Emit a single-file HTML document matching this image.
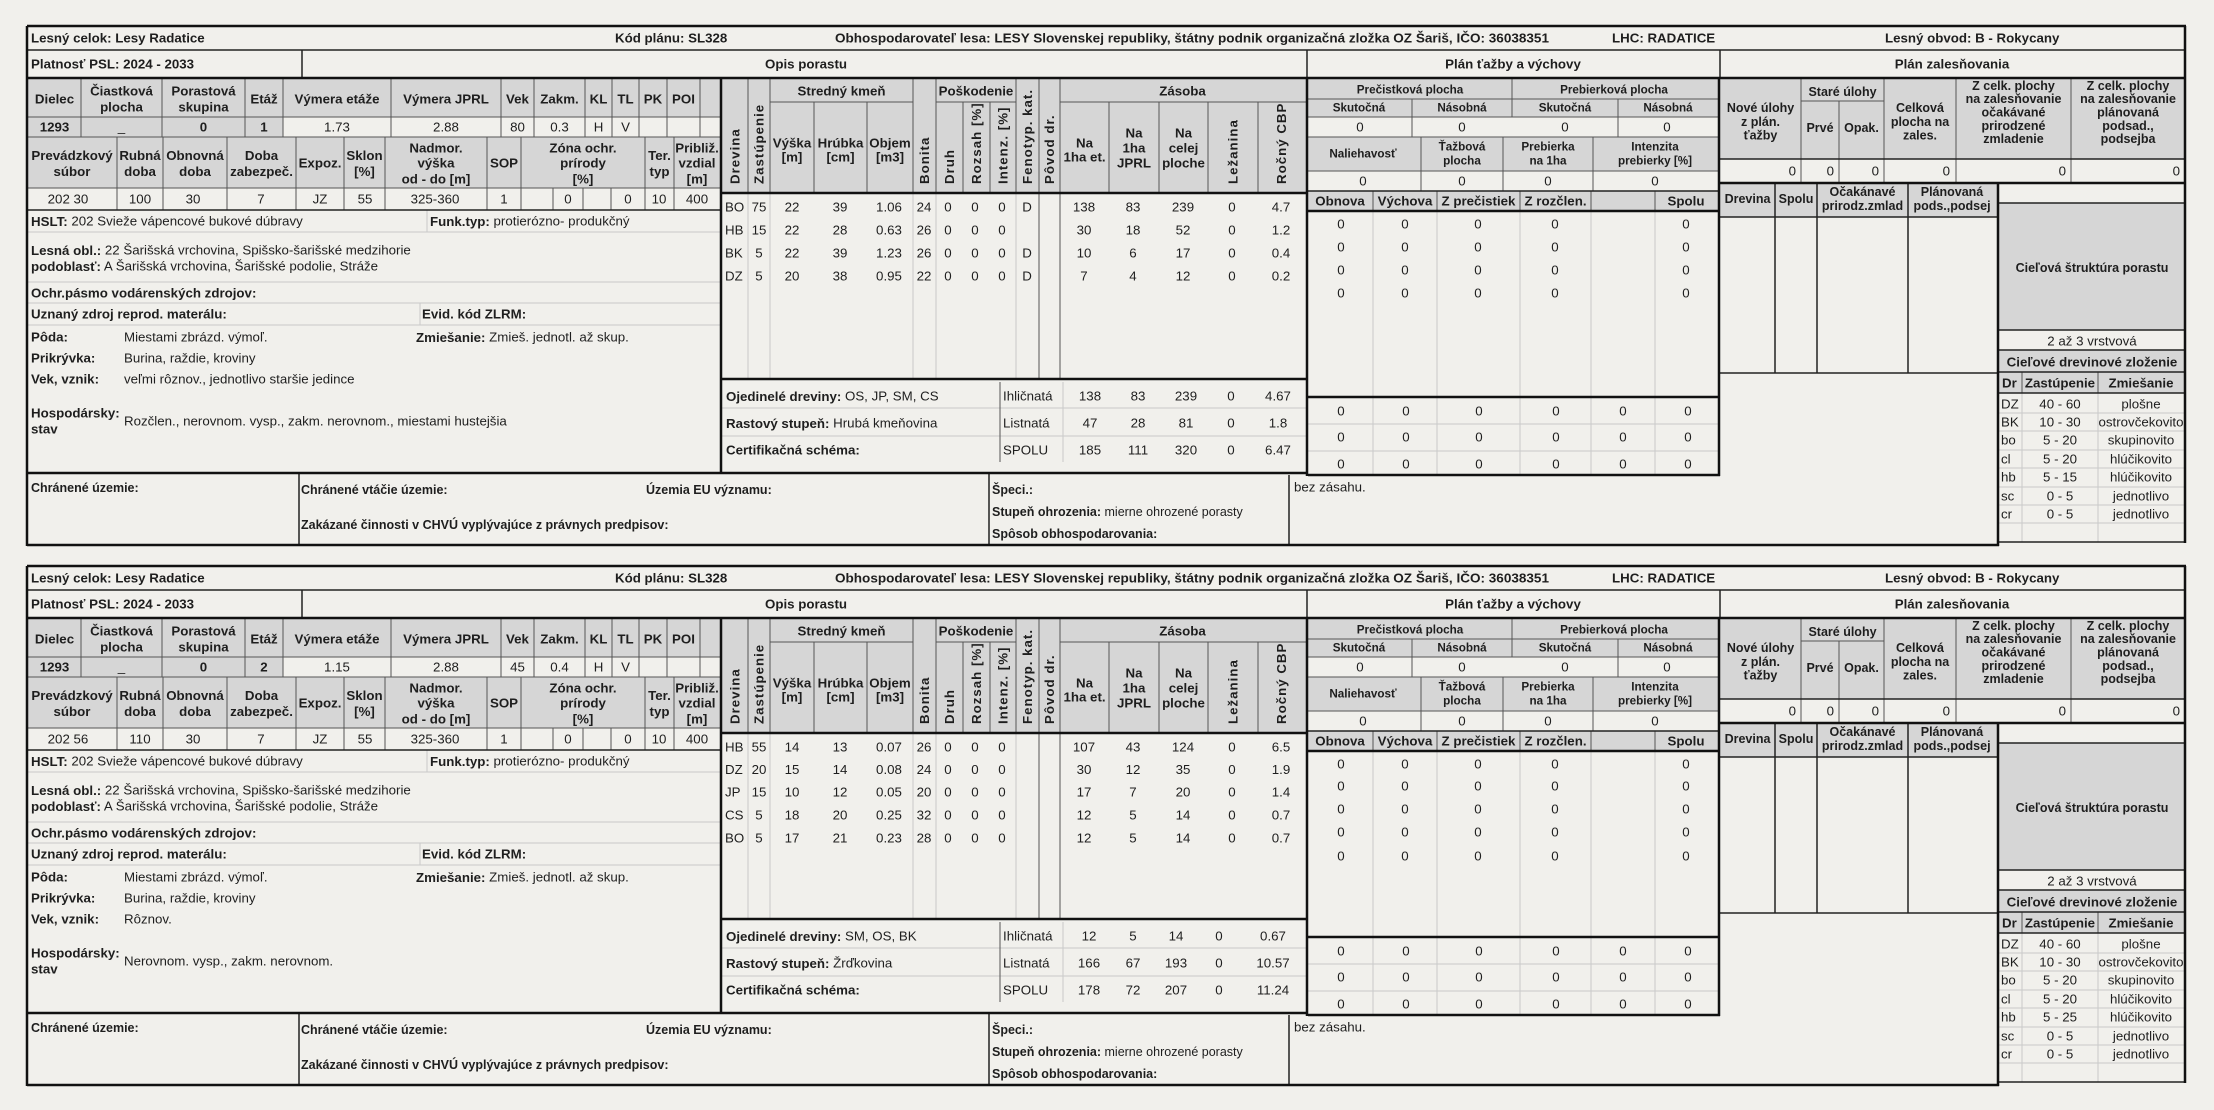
<!DOCTYPE html>
<html><head><meta charset="utf-8">
<style>
html,body{margin:0;padding:0;background:#f1f0ec;}
svg{display:block}
text{font-family:"Liberation Sans",Arial,sans-serif;font-size:13.3px;fill:#1e1e1e;dominant-baseline:central}
.b{font-weight:bold}
.c{text-anchor:middle}
.e{text-anchor:end}
.s{font-size:11.7px}
.m{font-size:12.5px}
.v{letter-spacing:1px;font-weight:bold}
.k{stroke:#111;stroke-width:2.5;fill:none}
.d{stroke:#222;stroke-width:1.5;fill:none}
.t{stroke:#555;stroke-width:1;fill:none}
.l{stroke:#c9c9c9;stroke-width:1;fill:none}
.g{fill:#d6d6d6}
</style></head><body>
<svg width="2214" height="1110" viewBox="0 0 2214 1110" xmlns="http://www.w3.org/2000/svg">

<!-- ================= BLOCK 1 ================= -->
<g>
<rect class="g" x="28" y="79" width="693" height="38"/>
<rect class="g" x="28" y="117" width="255" height="20"/>
<rect class="g" x="28" y="137" width="693" height="51"/>
<rect class="g" x="722" y="79" width="585" height="114"/>
<rect class="g" x="1308" y="79" width="411" height="38"/>
<rect class="g" x="1308" y="137" width="411" height="34"/>
<rect class="g" x="1308" y="191" width="411" height="20"/>
<rect class="g" x="1720" y="79" width="465" height="80"/>
<rect class="g" x="1720" y="183" width="278" height="34"/>
<rect class="g" x="1999" y="203" width="186" height="127"/>
<rect class="g" x="1999" y="350" width="186" height="43"/>

<path class="l" d="M427 210V232 M28 232H721 M28 282H721 M28 303H721 M28 325H721 M420 303V325 M748 193V379 M770 193V379 M913 193V379 M936 193V379 M1016 193V379 M1063 382V462 M722 408H1306 M722 436H1306 M1373 211V475 M1437 211V475 M1520 211V475 M1591 211V475 M1655 211V475 M1308 424H1719 M1308 451H1719 M2022 393V542 M2098 393V542 M1999 413H2185 M1999 431H2185 M1999 450H2185 M1999 468H2185 M1999 487H2185 M1999 505H2185 M1999 523H2185"/>
<path class="t" d="M28 117H721 M28 137H721 M28 188H721 M81 79V137 M162 79V137 M245 79V137 M283 79V137 M391 79V137 M501 79V137 M534 79V137 M585 79V137 M612 79V137 M639 79V137 M667 79V137 M700 79V137 M117 137V210 M163 137V210 M227 137V210 M296 137V210 M344 137V210 M385 137V210 M487 137V210 M521 137V210 M645 137V210 M674 137V210 M553 188V210 M583 188V210 M611 188V210 M748 79V193 M770 79V193 M913 79V193 M936 79V193 M1016 79V193 M1039 79V193 M1060 79V193 M814 102V193 M867 102V193 M963 102V193 M990 102V193 M1109 102V193 M1159 102V193 M1208 102V193 M1258 102V193 M770 102H913 M936 102H1016 M1060 102H1306 M1039 193V379 M1060 193V379 M1000 382V462 M1512 79V117 M1308 99H1719 M1308 117H1719 M1412 99V137 M1618 99V137 M1308 137H1719 M1308 171H1719 M1421 137V191 M1503 137V191 M1593 137V191 M1373 191V211 M1437 191V211 M1520 191V211 M1591 191V211 M1655 191V211 M1801 79V183 M1884 79V183 M1956 79V183 M2071 79V183 M1839 101V183 M1801 101H1884 M2022 372V393 M2098 372V393"/>
<path class="d" d="M27 50H2186 M302 50V78 M1307 50V78 M1720 50V78 M28 210H721 M299 473V545 M989 473V545 M1289 475V545 M1308 191H1719 M1720 159H2185 M1720 217H1998 M1720 373H1998 M1775 183V373 M1817 183V373 M1908 183V373 M1999 203H2185 M1999 330H2185 M1999 350H2185 M1999 372H2185 M1999 393H2185 M1999 542H2186"/>
<path class="k" d="M27 26H2186 M27 26V546 M2185 26V543 M27 78H2186 M721 78V474 M27 473H1308 M1307 78V476 M1308 475H1720 M1719 78V476 M722 193H1306 M722 379H1306 M1308 211H1719 M1308 397H1719 M1720 183H2186 M1998 183V546 M27 545H1999"/>

<!-- header rows -->
<text x="31" y="38" class="b">Lesný celok: Lesy Radatice</text>
<text x="615" y="38" class="b">Kód plánu: SL328</text>
<text x="835" y="38" class="b" textLength="714" lengthAdjust="spacingAndGlyphs">Obhospodarovateľ lesa: LESY Slovenskej republiky, štátny podnik organizačná zložka OZ Šariš, IČO: 36038351</text>
<text x="1612" y="38" class="b">LHC: RADATICE</text>
<text x="1885" y="38" class="b">Lesný obvod: B - Rokycany</text>
<text x="31" y="64" class="b">Platnosť PSL: 2024 - 2033</text>
<text x="806" y="64" class="b c">Opis porastu</text>
<text x="1513" y="64" class="b c">Plán ťažby a výchovy</text>
<text x="1952" y="64" class="b c">Plán zalesňovania</text>

<!-- left header 1 -->
<text x="54.5" y="99" class="b c">Dielec</text>
<text x="121.5" y="91" class="b c">Čiastková</text><text x="121.5" y="107" class="b c">plocha</text>
<text x="203.5" y="91" class="b c">Porastová</text><text x="203.5" y="107" class="b c">skupina</text>
<text x="264" y="99" class="b c">Etáž</text>
<text x="337" y="99" class="b c">Výmera etáže</text>
<text x="446" y="99" class="b c">Výmera JPRL</text>
<text x="517.5" y="99" class="b c">Vek</text>
<text x="559.5" y="99" class="b c">Zakm.</text>
<text x="598.5" y="99" class="b c">KL</text>
<text x="625.5" y="99" class="b c">TL</text>
<text x="653" y="99" class="b c">PK</text>
<text x="683.5" y="99" class="b c">POI</text>
<!-- 1293 row -->
<text x="54.5" y="127" class="b c">1293</text>
<text x="121.5" y="127" class="c">_</text>
<text x="203.5" y="127" class="b c">0</text>
<text x="264" y="127" class="b c">1</text>
<text x="337" y="127" class="c">1.73</text>
<text x="446" y="127" class="c">2.88</text>
<text x="517.5" y="127" class="c">80</text>
<text x="559.5" y="127" class="c">0.3</text>
<text x="598.5" y="127" class="c">H</text>
<text x="625.5" y="127" class="c">V</text>
<!-- left header 2 -->
<text x="72" y="155.5" class="b c">Prevádzkový</text><text x="72" y="171.5" class="b c">súbor</text>
<text x="140" y="155.5" class="b c">Rubná</text><text x="140" y="171.5" class="b c">doba</text>
<text x="195" y="155.5" class="b c">Obnovná</text><text x="195" y="171.5" class="b c">doba</text>
<text x="261.5" y="155.5" class="b c">Doba</text><text x="261.5" y="171.5" class="b c">zabezpeč.</text>
<text x="320" y="163" class="b c">Expoz.</text>
<text x="364.5" y="155.5" class="b c">Sklon</text><text x="364.5" y="171.5" class="b c">[%]</text>
<text x="436" y="148" class="b c">Nadmor.</text><text x="436" y="163" class="b c">výška</text><text x="436" y="179" class="b c">od - do [m]</text>
<text x="504" y="163" class="b c">SOP</text>
<text x="583" y="148" class="b c">Zóna ochr.</text><text x="583" y="163" class="b c">prírody</text><text x="583" y="179" class="b c">[%]</text>
<text x="659.5" y="155.5" class="b c">Ter.</text><text x="659.5" y="171.5" class="b c">typ</text>
<text x="697" y="148" class="b c">Približ.</text><text x="697" y="163" class="b c">vzdial</text><text x="697" y="179" class="b c">[m]</text>
<!-- data row -->
<text x="68" y="199" class="c">202 30</text>
<text x="140" y="199" class="c">100</text>
<text x="193" y="199" class="c">30</text>
<text x="261" y="199" class="c">7</text>
<text x="320" y="199" class="c">JZ</text>
<text x="365" y="199" class="c">55</text>
<text x="435" y="199" class="c">325-360</text>
<text x="504" y="199" class="c">1</text>
<text x="568" y="199" class="c">0</text>
<text x="628" y="199" class="c">0</text>
<text x="659" y="199" class="c">10</text>
<text x="697" y="199" class="c">400</text>
<!-- left info -->
<text x="31" y="221"><tspan class="b">HSLT:</tspan> 202 Svieže vápencové bukové dúbravy</text>
<text x="430" y="221"><tspan class="b">Funk.typ:</tspan> protierózno- produkčný</text>
<text x="31" y="250"><tspan class="b">Lesná obl.:</tspan> 22 Šarišská vrchovina, Spišsko-šarišské medzihorie</text>
<text x="31" y="266"><tspan class="b">podoblasť:</tspan> A Šarišská vrchovina, Šarišské podolie, Stráže</text>
<text x="31" y="293" class="b">Ochr.pásmo vodárenských zdrojov:</text>
<text x="31" y="314" class="b">Uznaný zdroj reprod. materálu:</text>
<text x="422" y="314" class="b">Evid. kód ZLRM:</text>
<text x="31" y="337" class="b">Pôda:</text><text x="124" y="337">Miestami zbrázd. výmoľ.</text>
<text x="416" y="337"><tspan class="b">Zmiešanie:</tspan> Zmieš. jednotl. až skup.</text>
<text x="31" y="358" class="b">Prikrývka:</text><text x="124" y="358">Burina, raždie, kroviny</text>
<text x="31" y="379" class="b">Vek, vznik:</text><text x="124" y="379">veľmi rôznov., jednotlivo staršie jedince</text>
<text x="31" y="413" class="b">Hospodársky:</text><text x="31" y="429" class="b">stav</text>
<text x="124" y="421">Rozčlen., nerovnom. vysp., zakm. nerovnom., miestami hustejšia</text>
<!-- bottom row -->
<text x="31" y="488" class="b m">Chránené územie:</text>
<text x="301" y="490" class="b m">Chránené vtáčie územie:</text>
<text x="646" y="490" class="b m">Územia EU významu:</text>
<text x="301" y="525" class="b m">Zakázané činnosti v CHVÚ vyplývajúce z právnych predpisov:</text>
<text x="992" y="490" class="b m">Špeci.:</text>
<text x="992" y="512" class="m"><tspan class="b">Stupeň ohrozenia:</tspan> mierne ohrozené porasty</text>
<text x="992" y="534" class="b m">Spôsob obhospodarovania:</text>
<text x="1294" y="487">bez zásahu.</text>

<!-- middle header -->
<text x="841.5" y="91" class="b c">Stredný kmeň</text>
<text x="976" y="91" class="b c">Poškodenie</text>
<text x="1182.5" y="91" class="b c">Zásoba</text>
<text transform="translate(735,184) rotate(-90)" class="v">Drevina</text>
<text transform="translate(759,184) rotate(-90)" class="v">Zastúpenie</text>
<text transform="translate(924.5,184) rotate(-90)" class="v">Bonita</text>
<text transform="translate(949.5,184) rotate(-90)" class="v">Druh</text>
<text transform="translate(976.5,184) rotate(-90)" class="v">Rozsah [%]</text>
<text transform="translate(1003,184) rotate(-90)" class="v">Intenz. [%]</text>
<text transform="translate(1027.5,184) rotate(-90)" class="v">Fenotyp. kat.</text>
<text transform="translate(1049.5,184) rotate(-90)" class="v">Pôvod dr.</text>
<text transform="translate(1233,184) rotate(-90)" class="v">Ležanina</text>
<text transform="translate(1281.5,184) rotate(-90)" class="v">Ročný CBP</text>
<text x="792" y="143" class="b c">Výška</text><text x="792" y="157" class="b c">[m]</text>
<text x="840.5" y="143" class="b c">Hrúbka</text><text x="840.5" y="157" class="b c">[cm]</text>
<text x="890" y="143" class="b c">Objem</text><text x="890" y="157" class="b c">[m3]</text>
<text x="1084.5" y="143" class="b c">Na</text><text x="1084.5" y="157" class="b c">1ha et.</text>
<text x="1134" y="133" class="b c">Na</text><text x="1134" y="148" class="b c">1ha</text><text x="1134" y="163" class="b c">JPRL</text>
<text x="1183.5" y="133" class="b c">Na</text><text x="1183.5" y="148" class="b c">celej</text><text x="1183.5" y="163" class="b c">ploche</text>
<!-- species rows -->
<g>
<text x="725" y="207">BO</text><text x="759" y="207" class="c">75</text><text x="792" y="207" class="c">22</text><text x="840" y="207" class="c">39</text><text x="889" y="207" class="c">1.06</text><text x="924" y="207" class="c">24</text><text x="948" y="207" class="c">0</text><text x="975" y="207" class="c">0</text><text x="1002" y="207" class="c">0</text><text x="1027" y="207" class="c">D</text><text x="1084" y="207" class="c">138</text><text x="1133" y="207" class="c">83</text><text x="1183" y="207" class="c">239</text><text x="1232" y="207" class="c">0</text><text x="1281" y="207" class="c">4.7</text>
<text x="725" y="230">HB</text><text x="759" y="230" class="c">15</text><text x="792" y="230" class="c">22</text><text x="840" y="230" class="c">28</text><text x="889" y="230" class="c">0.63</text><text x="924" y="230" class="c">26</text><text x="948" y="230" class="c">0</text><text x="975" y="230" class="c">0</text><text x="1002" y="230" class="c">0</text><text x="1084" y="230" class="c">30</text><text x="1133" y="230" class="c">18</text><text x="1183" y="230" class="c">52</text><text x="1232" y="230" class="c">0</text><text x="1281" y="230" class="c">1.2</text>
<text x="725" y="253">BK</text><text x="759" y="253" class="c">5</text><text x="792" y="253" class="c">22</text><text x="840" y="253" class="c">39</text><text x="889" y="253" class="c">1.23</text><text x="924" y="253" class="c">26</text><text x="948" y="253" class="c">0</text><text x="975" y="253" class="c">0</text><text x="1002" y="253" class="c">0</text><text x="1027" y="253" class="c">D</text><text x="1084" y="253" class="c">10</text><text x="1133" y="253" class="c">6</text><text x="1183" y="253" class="c">17</text><text x="1232" y="253" class="c">0</text><text x="1281" y="253" class="c">0.4</text>
<text x="725" y="276">DZ</text><text x="759" y="276" class="c">5</text><text x="792" y="276" class="c">20</text><text x="840" y="276" class="c">38</text><text x="889" y="276" class="c">0.95</text><text x="924" y="276" class="c">22</text><text x="948" y="276" class="c">0</text><text x="975" y="276" class="c">0</text><text x="1002" y="276" class="c">0</text><text x="1027" y="276" class="c">D</text><text x="1084" y="276" class="c">7</text><text x="1133" y="276" class="c">4</text><text x="1183" y="276" class="c">12</text><text x="1232" y="276" class="c">0</text><text x="1281" y="276" class="c">0.2</text>
</g>
<!-- summary -->
<text x="726" y="396"><tspan class="b">Ojedinelé dreviny:</tspan> OS, JP, SM, CS</text>
<text x="726" y="423"><tspan class="b">Rastový stupeň:</tspan> Hrubá kmeňovina</text>
<text x="726" y="450" class="b">Certifikačná schéma:</text>
<text x="1003" y="396">Ihličnatá</text><text x="1090" y="396" class="c">138</text><text x="1138" y="396" class="c">83</text><text x="1186" y="396" class="c">239</text><text x="1231" y="396" class="c">0</text><text x="1278" y="396" class="c">4.67</text>
<text x="1003" y="423">Listnatá</text><text x="1090" y="423" class="c">47</text><text x="1138" y="423" class="c">28</text><text x="1186" y="423" class="c">81</text><text x="1231" y="423" class="c">0</text><text x="1278" y="423" class="c">1.8</text>
<text x="1003" y="450">SPOLU</text><text x="1090" y="450" class="c">185</text><text x="1138" y="450" class="c">111</text><text x="1186" y="450" class="c">320</text><text x="1231" y="450" class="c">0</text><text x="1278" y="450" class="c">6.47</text>

<!-- Plan tazby -->
<text x="1410" y="90" class="b c s">Prečistková plocha</text>
<text x="1614" y="90" class="b c s">Prebierková plocha</text>
<text x="1359" y="108" class="b c s">Skutočná</text><text x="1462" y="108" class="b c s">Násobná</text><text x="1565" y="108" class="b c s">Skutočná</text><text x="1668" y="108" class="b c s">Násobná</text>
<text x="1360" y="127" class="c">0</text><text x="1462" y="127" class="c">0</text><text x="1565" y="127" class="c">0</text><text x="1667" y="127" class="c">0</text>
<text x="1363" y="154" class="b c s">Naliehavosť</text>
<text x="1462" y="147" class="b c s">Ťažbová</text><text x="1462" y="161" class="b c s">plocha</text>
<text x="1548" y="147" class="b c s">Prebierka</text><text x="1548" y="161" class="b c s">na 1ha</text>
<text x="1655" y="147" class="b c s">Intenzita</text><text x="1655" y="161" class="b c s">prebierky [%]</text>
<text x="1363" y="181" class="c">0</text><text x="1462" y="181" class="c">0</text><text x="1548" y="181" class="c">0</text><text x="1655" y="181" class="c">0</text>
<text x="1340" y="201" class="b c">Obnova</text><text x="1405" y="201" class="b c">Výchova</text><text x="1478.5" y="201" class="b c">Z prečistiek</text><text x="1555.5" y="201" class="b c">Z rozčlen.</text><text x="1686" y="201" class="b c">Spolu</text>
<g>
<text x="1341" y="224" class="c">0</text><text x="1405" y="224" class="c">0</text><text x="1478" y="224" class="c">0</text><text x="1555" y="224" class="c">0</text><text x="1686" y="224" class="c">0</text>
<text x="1341" y="247" class="c">0</text><text x="1405" y="247" class="c">0</text><text x="1478" y="247" class="c">0</text><text x="1555" y="247" class="c">0</text><text x="1686" y="247" class="c">0</text>
<text x="1341" y="270" class="c">0</text><text x="1405" y="270" class="c">0</text><text x="1478" y="270" class="c">0</text><text x="1555" y="270" class="c">0</text><text x="1686" y="270" class="c">0</text>
<text x="1341" y="293" class="c">0</text><text x="1405" y="293" class="c">0</text><text x="1478" y="293" class="c">0</text><text x="1555" y="293" class="c">0</text><text x="1686" y="293" class="c">0</text>
</g>
<g>
<text x="1341" y="411" class="c">0</text><text x="1406" y="411" class="c">0</text><text x="1479" y="411" class="c">0</text><text x="1556" y="411" class="c">0</text><text x="1623" y="411" class="c">0</text><text x="1688" y="411" class="c">0</text>
<text x="1341" y="437" class="c">0</text><text x="1406" y="437" class="c">0</text><text x="1479" y="437" class="c">0</text><text x="1556" y="437" class="c">0</text><text x="1623" y="437" class="c">0</text><text x="1688" y="437" class="c">0</text>
<text x="1341" y="464" class="c">0</text><text x="1406" y="464" class="c">0</text><text x="1479" y="464" class="c">0</text><text x="1556" y="464" class="c">0</text><text x="1623" y="464" class="c">0</text><text x="1688" y="464" class="c">0</text>
</g>

<!-- Plan zalesnovania -->
<text x="1760.5" y="108" class="b c m">Nové úlohy</text><text x="1760.5" y="122" class="b c m">z plán.</text><text x="1760.5" y="135.5" class="b c m">ťažby</text>
<text x="1842.5" y="92" class="b c m">Staré úlohy</text>
<text x="1820" y="128" class="b c m">Prvé</text><text x="1861.5" y="128" class="b c m">Opak.</text>
<text x="1920" y="108" class="b c m">Celková</text><text x="1920" y="122" class="b c m">plocha na</text><text x="1920" y="135.5" class="b c m">zales.</text>
<text x="2013.5" y="86" class="b c m">Z celk. plochy</text><text x="2013.5" y="99" class="b c m">na zalesňovanie</text><text x="2013.5" y="112.5" class="b c m">očakávané</text><text x="2013.5" y="126" class="b c m">prirodzené</text><text x="2013.5" y="139" class="b c m">zmladenie</text>
<text x="2128" y="86" class="b c m">Z celk. plochy</text><text x="2128" y="99" class="b c m">na zalesňovanie</text><text x="2128" y="112.5" class="b c m">plánovaná</text><text x="2128" y="126" class="b c m">podsad.,</text><text x="2128" y="139" class="b c m">podsejba</text>
<text x="1796" y="171" class="e">0</text><text x="1834" y="171" class="e">0</text><text x="1879" y="171" class="e">0</text><text x="1950" y="171" class="e">0</text><text x="2066" y="171" class="e">0</text><text x="2180" y="171" class="e">0</text>
<text x="1747.5" y="199" class="b c m">Drevina</text>
<text x="1796" y="199" class="b c m">Spolu</text>
<text x="1862.5" y="192" class="b c m">Očakánavé</text><text x="1862.5" y="206" class="b c m">prirodz.zmlad</text>
<text x="1952" y="192" class="b c m">Plánovaná</text><text x="1952" y="206" class="b c m">pods.,podsej</text>

<!-- right panel -->
<text x="2092" y="268" class="b c m">Cieľová štruktúra porastu</text>
<text x="2092" y="341" class="c">2 až 3 vrstvová</text>
<text x="2092" y="362" class="b c">Cieľové drevinové zloženie</text>
<text x="2002" y="383" class="b">Dr</text><text x="2060" y="383" class="b c">Zastúpenie</text><text x="2141" y="383" class="b c">Zmiešanie</text>
<text x="2001" y="404">DZ</text><text x="2060" y="404" class="c">40 - 60</text><text x="2141" y="404" class="c">plošne</text>
<text x="2001" y="422">BK</text><text x="2060" y="422" class="c">10 - 30</text><text x="2141" y="422" class="c">ostrovčekovito</text>
<text x="2001" y="440">bo</text><text x="2060" y="440" class="c">5 - 20</text><text x="2141" y="440" class="c">skupinovito</text>
<text x="2001" y="459">cl</text><text x="2060" y="459" class="c">5 - 20</text><text x="2141" y="459" class="c">hlúčikovito</text>
<text x="2001" y="477">hb</text><text x="2060" y="477" class="c">5 - 15</text><text x="2141" y="477" class="c">hlúčikovito</text>
<text x="2001" y="496">sc</text><text x="2060" y="496" class="c">0 - 5</text><text x="2141" y="496" class="c">jednotlivo</text>
<text x="2001" y="514">cr</text><text x="2060" y="514" class="c">0 - 5</text><text x="2141" y="514" class="c">jednotlivo</text>
</g>

<!-- ================= BLOCK 2 ================= -->
<g transform="translate(0,540)">
<rect class="g" x="28" y="79" width="693" height="38"/>
<rect class="g" x="28" y="117" width="255" height="20"/>
<rect class="g" x="28" y="137" width="693" height="51"/>
<rect class="g" x="722" y="79" width="585" height="114"/>
<rect class="g" x="1308" y="79" width="411" height="38"/>
<rect class="g" x="1308" y="137" width="411" height="34"/>
<rect class="g" x="1308" y="191" width="411" height="20"/>
<rect class="g" x="1720" y="79" width="465" height="80"/>
<rect class="g" x="1720" y="183" width="278" height="34"/>
<rect class="g" x="1999" y="203" width="186" height="127"/>
<rect class="g" x="1999" y="350" width="186" height="43"/>

<path class="l" d="M427 210V232 M28 232H721 M28 282H721 M28 303H721 M28 325H721 M420 303V325 M748 193V379 M770 193V379 M913 193V379 M936 193V379 M1016 193V379 M1063 382V462 M722 408H1306 M722 436H1306 M1373 211V475 M1437 211V475 M1520 211V475 M1591 211V475 M1655 211V475 M1308 424H1719 M1308 451H1719 M2022 393V542 M2098 393V542 M1999 413H2185 M1999 431H2185 M1999 450H2185 M1999 468H2185 M1999 487H2185 M1999 505H2185 M1999 523H2185"/>
<path class="t" d="M28 117H721 M28 137H721 M28 188H721 M81 79V137 M162 79V137 M245 79V137 M283 79V137 M391 79V137 M501 79V137 M534 79V137 M585 79V137 M612 79V137 M639 79V137 M667 79V137 M700 79V137 M117 137V210 M163 137V210 M227 137V210 M296 137V210 M344 137V210 M385 137V210 M487 137V210 M521 137V210 M645 137V210 M674 137V210 M553 188V210 M583 188V210 M611 188V210 M748 79V193 M770 79V193 M913 79V193 M936 79V193 M1016 79V193 M1039 79V193 M1060 79V193 M814 102V193 M867 102V193 M963 102V193 M990 102V193 M1109 102V193 M1159 102V193 M1208 102V193 M1258 102V193 M770 102H913 M936 102H1016 M1060 102H1306 M1039 193V379 M1060 193V379 M1000 382V462 M1512 79V117 M1308 99H1719 M1308 117H1719 M1412 99V137 M1618 99V137 M1308 137H1719 M1308 171H1719 M1421 137V191 M1503 137V191 M1593 137V191 M1373 191V211 M1437 191V211 M1520 191V211 M1591 191V211 M1655 191V211 M1801 79V183 M1884 79V183 M1956 79V183 M2071 79V183 M1839 101V183 M1801 101H1884 M2022 372V393 M2098 372V393"/>
<path class="d" d="M27 50H2186 M302 50V78 M1307 50V78 M1720 50V78 M28 210H721 M299 473V545 M989 473V545 M1289 475V545 M1308 191H1719 M1720 159H2185 M1720 217H1998 M1720 373H1998 M1775 183V373 M1817 183V373 M1908 183V373 M1999 203H2185 M1999 330H2185 M1999 350H2185 M1999 372H2185 M1999 393H2185 M1999 542H2186"/>
<path class="k" d="M27 26H2186 M27 26V546 M2185 26V543 M27 78H2186 M721 78V474 M27 473H1308 M1307 78V476 M1308 475H1720 M1719 78V476 M722 193H1306 M722 379H1306 M1308 211H1719 M1308 397H1719 M1720 183H2186 M1998 183V546 M27 545H1999"/>

<text x="31" y="38" class="b">Lesný celok: Lesy Radatice</text>
<text x="615" y="38" class="b">Kód plánu: SL328</text>
<text x="835" y="38" class="b" textLength="714" lengthAdjust="spacingAndGlyphs">Obhospodarovateľ lesa: LESY Slovenskej republiky, štátny podnik organizačná zložka OZ Šariš, IČO: 36038351</text>
<text x="1612" y="38" class="b">LHC: RADATICE</text>
<text x="1885" y="38" class="b">Lesný obvod: B - Rokycany</text>
<text x="31" y="64" class="b">Platnosť PSL: 2024 - 2033</text>
<text x="806" y="64" class="b c">Opis porastu</text>
<text x="1513" y="64" class="b c">Plán ťažby a výchovy</text>
<text x="1952" y="64" class="b c">Plán zalesňovania</text>

<text x="54.5" y="99" class="b c">Dielec</text>
<text x="121.5" y="91" class="b c">Čiastková</text><text x="121.5" y="107" class="b c">plocha</text>
<text x="203.5" y="91" class="b c">Porastová</text><text x="203.5" y="107" class="b c">skupina</text>
<text x="264" y="99" class="b c">Etáž</text>
<text x="337" y="99" class="b c">Výmera etáže</text>
<text x="446" y="99" class="b c">Výmera JPRL</text>
<text x="517.5" y="99" class="b c">Vek</text>
<text x="559.5" y="99" class="b c">Zakm.</text>
<text x="598.5" y="99" class="b c">KL</text>
<text x="625.5" y="99" class="b c">TL</text>
<text x="653" y="99" class="b c">PK</text>
<text x="683.5" y="99" class="b c">POI</text>
<text x="54.5" y="127" class="b c">1293</text>
<text x="121.5" y="127" class="c">_</text>
<text x="203.5" y="127" class="b c">0</text>
<text x="264" y="127" class="b c">2</text>
<text x="337" y="127" class="c">1.15</text>
<text x="446" y="127" class="c">2.88</text>
<text x="517.5" y="127" class="c">45</text>
<text x="559.5" y="127" class="c">0.4</text>
<text x="598.5" y="127" class="c">H</text>
<text x="625.5" y="127" class="c">V</text>
<text x="72" y="155.5" class="b c">Prevádzkový</text><text x="72" y="171.5" class="b c">súbor</text>
<text x="140" y="155.5" class="b c">Rubná</text><text x="140" y="171.5" class="b c">doba</text>
<text x="195" y="155.5" class="b c">Obnovná</text><text x="195" y="171.5" class="b c">doba</text>
<text x="261.5" y="155.5" class="b c">Doba</text><text x="261.5" y="171.5" class="b c">zabezpeč.</text>
<text x="320" y="163" class="b c">Expoz.</text>
<text x="364.5" y="155.5" class="b c">Sklon</text><text x="364.5" y="171.5" class="b c">[%]</text>
<text x="436" y="148" class="b c">Nadmor.</text><text x="436" y="163" class="b c">výška</text><text x="436" y="179" class="b c">od - do [m]</text>
<text x="504" y="163" class="b c">SOP</text>
<text x="583" y="148" class="b c">Zóna ochr.</text><text x="583" y="163" class="b c">prírody</text><text x="583" y="179" class="b c">[%]</text>
<text x="659.5" y="155.5" class="b c">Ter.</text><text x="659.5" y="171.5" class="b c">typ</text>
<text x="697" y="148" class="b c">Približ.</text><text x="697" y="163" class="b c">vzdial</text><text x="697" y="179" class="b c">[m]</text>
<text x="68" y="199" class="c">202 56</text>
<text x="140" y="199" class="c">110</text>
<text x="193" y="199" class="c">30</text>
<text x="261" y="199" class="c">7</text>
<text x="320" y="199" class="c">JZ</text>
<text x="365" y="199" class="c">55</text>
<text x="435" y="199" class="c">325-360</text>
<text x="504" y="199" class="c">1</text>
<text x="568" y="199" class="c">0</text>
<text x="628" y="199" class="c">0</text>
<text x="659" y="199" class="c">10</text>
<text x="697" y="199" class="c">400</text>
<text x="31" y="221"><tspan class="b">HSLT:</tspan> 202 Svieže vápencové bukové dúbravy</text>
<text x="430" y="221"><tspan class="b">Funk.typ:</tspan> protierózno- produkčný</text>
<text x="31" y="250"><tspan class="b">Lesná obl.:</tspan> 22 Šarišská vrchovina, Spišsko-šarišské medzihorie</text>
<text x="31" y="266"><tspan class="b">podoblasť:</tspan> A Šarišská vrchovina, Šarišské podolie, Stráže</text>
<text x="31" y="293" class="b">Ochr.pásmo vodárenských zdrojov:</text>
<text x="31" y="314" class="b">Uznaný zdroj reprod. materálu:</text>
<text x="422" y="314" class="b">Evid. kód ZLRM:</text>
<text x="31" y="337" class="b">Pôda:</text><text x="124" y="337">Miestami zbrázd. výmoľ.</text>
<text x="416" y="337"><tspan class="b">Zmiešanie:</tspan> Zmieš. jednotl. až skup.</text>
<text x="31" y="358" class="b">Prikrývka:</text><text x="124" y="358">Burina, raždie, kroviny</text>
<text x="31" y="379" class="b">Vek, vznik:</text><text x="124" y="379">Rôznov.</text>
<text x="31" y="413" class="b">Hospodársky:</text><text x="31" y="429" class="b">stav</text>
<text x="124" y="421">Nerovnom. vysp., zakm. nerovnom.</text>
<text x="31" y="488" class="b m">Chránené územie:</text>
<text x="301" y="490" class="b m">Chránené vtáčie územie:</text>
<text x="646" y="490" class="b m">Územia EU významu:</text>
<text x="301" y="525" class="b m">Zakázané činnosti v CHVÚ vyplývajúce z právnych predpisov:</text>
<text x="992" y="490" class="b m">Špeci.:</text>
<text x="992" y="512" class="m"><tspan class="b">Stupeň ohrozenia:</tspan> mierne ohrozené porasty</text>
<text x="992" y="534" class="b m">Spôsob obhospodarovania:</text>
<text x="1294" y="487">bez zásahu.</text>

<text x="841.5" y="91" class="b c">Stredný kmeň</text>
<text x="976" y="91" class="b c">Poškodenie</text>
<text x="1182.5" y="91" class="b c">Zásoba</text>
<text transform="translate(735,184) rotate(-90)" class="v">Drevina</text>
<text transform="translate(759,184) rotate(-90)" class="v">Zastúpenie</text>
<text transform="translate(924.5,184) rotate(-90)" class="v">Bonita</text>
<text transform="translate(949.5,184) rotate(-90)" class="v">Druh</text>
<text transform="translate(976.5,184) rotate(-90)" class="v">Rozsah [%]</text>
<text transform="translate(1003,184) rotate(-90)" class="v">Intenz. [%]</text>
<text transform="translate(1027.5,184) rotate(-90)" class="v">Fenotyp. kat.</text>
<text transform="translate(1049.5,184) rotate(-90)" class="v">Pôvod dr.</text>
<text transform="translate(1233,184) rotate(-90)" class="v">Ležanina</text>
<text transform="translate(1281.5,184) rotate(-90)" class="v">Ročný CBP</text>
<text x="792" y="143" class="b c">Výška</text><text x="792" y="157" class="b c">[m]</text>
<text x="840.5" y="143" class="b c">Hrúbka</text><text x="840.5" y="157" class="b c">[cm]</text>
<text x="890" y="143" class="b c">Objem</text><text x="890" y="157" class="b c">[m3]</text>
<text x="1084.5" y="143" class="b c">Na</text><text x="1084.5" y="157" class="b c">1ha et.</text>
<text x="1134" y="133" class="b c">Na</text><text x="1134" y="148" class="b c">1ha</text><text x="1134" y="163" class="b c">JPRL</text>
<text x="1183.5" y="133" class="b c">Na</text><text x="1183.5" y="148" class="b c">celej</text><text x="1183.5" y="163" class="b c">ploche</text>
<g>
<text x="725" y="207">HB</text><text x="759" y="207" class="c">55</text><text x="792" y="207" class="c">14</text><text x="840" y="207" class="c">13</text><text x="889" y="207" class="c">0.07</text><text x="924" y="207" class="c">26</text><text x="948" y="207" class="c">0</text><text x="975" y="207" class="c">0</text><text x="1002" y="207" class="c">0</text><text x="1084" y="207" class="c">107</text><text x="1133" y="207" class="c">43</text><text x="1183" y="207" class="c">124</text><text x="1232" y="207" class="c">0</text><text x="1281" y="207" class="c">6.5</text>
<text x="725" y="229.5">DZ</text><text x="759" y="229.5" class="c">20</text><text x="792" y="229.5" class="c">15</text><text x="840" y="229.5" class="c">14</text><text x="889" y="229.5" class="c">0.08</text><text x="924" y="229.5" class="c">24</text><text x="948" y="229.5" class="c">0</text><text x="975" y="229.5" class="c">0</text><text x="1002" y="229.5" class="c">0</text><text x="1084" y="229.5" class="c">30</text><text x="1133" y="229.5" class="c">12</text><text x="1183" y="229.5" class="c">35</text><text x="1232" y="229.5" class="c">0</text><text x="1281" y="229.5" class="c">1.9</text>
<text x="725" y="252">JP</text><text x="759" y="252" class="c">15</text><text x="792" y="252" class="c">10</text><text x="840" y="252" class="c">12</text><text x="889" y="252" class="c">0.05</text><text x="924" y="252" class="c">20</text><text x="948" y="252" class="c">0</text><text x="975" y="252" class="c">0</text><text x="1002" y="252" class="c">0</text><text x="1084" y="252" class="c">17</text><text x="1133" y="252" class="c">7</text><text x="1183" y="252" class="c">20</text><text x="1232" y="252" class="c">0</text><text x="1281" y="252" class="c">1.4</text>
<text x="725" y="275">CS</text><text x="759" y="275" class="c">5</text><text x="792" y="275" class="c">18</text><text x="840" y="275" class="c">20</text><text x="889" y="275" class="c">0.25</text><text x="924" y="275" class="c">32</text><text x="948" y="275" class="c">0</text><text x="975" y="275" class="c">0</text><text x="1002" y="275" class="c">0</text><text x="1084" y="275" class="c">12</text><text x="1133" y="275" class="c">5</text><text x="1183" y="275" class="c">14</text><text x="1232" y="275" class="c">0</text><text x="1281" y="275" class="c">0.7</text>
<text x="725" y="298">BO</text><text x="759" y="298" class="c">5</text><text x="792" y="298" class="c">17</text><text x="840" y="298" class="c">21</text><text x="889" y="298" class="c">0.23</text><text x="924" y="298" class="c">28</text><text x="948" y="298" class="c">0</text><text x="975" y="298" class="c">0</text><text x="1002" y="298" class="c">0</text><text x="1084" y="298" class="c">12</text><text x="1133" y="298" class="c">5</text><text x="1183" y="298" class="c">14</text><text x="1232" y="298" class="c">0</text><text x="1281" y="298" class="c">0.7</text>
</g>
<text x="726" y="396"><tspan class="b">Ojedinelé dreviny:</tspan> SM, OS, BK</text>
<text x="726" y="423"><tspan class="b">Rastový stupeň:</tspan> Žrďkovina</text>
<text x="726" y="450" class="b">Certifikačná schéma:</text>
<text x="1003" y="396">Ihličnatá</text><text x="1089" y="396" class="c">12</text><text x="1133" y="396" class="c">5</text><text x="1176" y="396" class="c">14</text><text x="1219" y="396" class="c">0</text><text x="1273" y="396" class="c">0.67</text>
<text x="1003" y="423">Listnatá</text><text x="1089" y="423" class="c">166</text><text x="1133" y="423" class="c">67</text><text x="1176" y="423" class="c">193</text><text x="1219" y="423" class="c">0</text><text x="1273" y="423" class="c">10.57</text>
<text x="1003" y="450">SPOLU</text><text x="1089" y="450" class="c">178</text><text x="1133" y="450" class="c">72</text><text x="1176" y="450" class="c">207</text><text x="1219" y="450" class="c">0</text><text x="1273" y="450" class="c">11.24</text>

<text x="1410" y="90" class="b c s">Prečistková plocha</text>
<text x="1614" y="90" class="b c s">Prebierková plocha</text>
<text x="1359" y="108" class="b c s">Skutočná</text><text x="1462" y="108" class="b c s">Násobná</text><text x="1565" y="108" class="b c s">Skutočná</text><text x="1668" y="108" class="b c s">Násobná</text>
<text x="1360" y="127" class="c">0</text><text x="1462" y="127" class="c">0</text><text x="1565" y="127" class="c">0</text><text x="1667" y="127" class="c">0</text>
<text x="1363" y="154" class="b c s">Naliehavosť</text>
<text x="1462" y="147" class="b c s">Ťažbová</text><text x="1462" y="161" class="b c s">plocha</text>
<text x="1548" y="147" class="b c s">Prebierka</text><text x="1548" y="161" class="b c s">na 1ha</text>
<text x="1655" y="147" class="b c s">Intenzita</text><text x="1655" y="161" class="b c s">prebierky [%]</text>
<text x="1363" y="181" class="c">0</text><text x="1462" y="181" class="c">0</text><text x="1548" y="181" class="c">0</text><text x="1655" y="181" class="c">0</text>
<text x="1340" y="201" class="b c">Obnova</text><text x="1405" y="201" class="b c">Výchova</text><text x="1478.5" y="201" class="b c">Z prečistiek</text><text x="1555.5" y="201" class="b c">Z rozčlen.</text><text x="1686" y="201" class="b c">Spolu</text>
<g>
<text x="1341" y="224" class="c">0</text><text x="1405" y="224" class="c">0</text><text x="1478" y="224" class="c">0</text><text x="1555" y="224" class="c">0</text><text x="1686" y="224" class="c">0</text>
<text x="1341" y="246" class="c">0</text><text x="1405" y="246" class="c">0</text><text x="1478" y="246" class="c">0</text><text x="1555" y="246" class="c">0</text><text x="1686" y="246" class="c">0</text>
<text x="1341" y="269" class="c">0</text><text x="1405" y="269" class="c">0</text><text x="1478" y="269" class="c">0</text><text x="1555" y="269" class="c">0</text><text x="1686" y="269" class="c">0</text>
<text x="1341" y="292" class="c">0</text><text x="1405" y="292" class="c">0</text><text x="1478" y="292" class="c">0</text><text x="1555" y="292" class="c">0</text><text x="1686" y="292" class="c">0</text>
<text x="1341" y="316" class="c">0</text><text x="1405" y="316" class="c">0</text><text x="1478" y="316" class="c">0</text><text x="1555" y="316" class="c">0</text><text x="1686" y="316" class="c">0</text>
</g>
<g>
<text x="1341" y="411" class="c">0</text><text x="1406" y="411" class="c">0</text><text x="1479" y="411" class="c">0</text><text x="1556" y="411" class="c">0</text><text x="1623" y="411" class="c">0</text><text x="1688" y="411" class="c">0</text>
<text x="1341" y="437" class="c">0</text><text x="1406" y="437" class="c">0</text><text x="1479" y="437" class="c">0</text><text x="1556" y="437" class="c">0</text><text x="1623" y="437" class="c">0</text><text x="1688" y="437" class="c">0</text>
<text x="1341" y="464" class="c">0</text><text x="1406" y="464" class="c">0</text><text x="1479" y="464" class="c">0</text><text x="1556" y="464" class="c">0</text><text x="1623" y="464" class="c">0</text><text x="1688" y="464" class="c">0</text>
</g>

<text x="1760.5" y="108" class="b c m">Nové úlohy</text><text x="1760.5" y="122" class="b c m">z plán.</text><text x="1760.5" y="135.5" class="b c m">ťažby</text>
<text x="1842.5" y="92" class="b c m">Staré úlohy</text>
<text x="1820" y="128" class="b c m">Prvé</text><text x="1861.5" y="128" class="b c m">Opak.</text>
<text x="1920" y="108" class="b c m">Celková</text><text x="1920" y="122" class="b c m">plocha na</text><text x="1920" y="135.5" class="b c m">zales.</text>
<text x="2013.5" y="86" class="b c m">Z celk. plochy</text><text x="2013.5" y="99" class="b c m">na zalesňovanie</text><text x="2013.5" y="112.5" class="b c m">očakávané</text><text x="2013.5" y="126" class="b c m">prirodzené</text><text x="2013.5" y="139" class="b c m">zmladenie</text>
<text x="2128" y="86" class="b c m">Z celk. plochy</text><text x="2128" y="99" class="b c m">na zalesňovanie</text><text x="2128" y="112.5" class="b c m">plánovaná</text><text x="2128" y="126" class="b c m">podsad.,</text><text x="2128" y="139" class="b c m">podsejba</text>
<text x="1796" y="171" class="e">0</text><text x="1834" y="171" class="e">0</text><text x="1879" y="171" class="e">0</text><text x="1950" y="171" class="e">0</text><text x="2066" y="171" class="e">0</text><text x="2180" y="171" class="e">0</text>
<text x="1747.5" y="199" class="b c m">Drevina</text>
<text x="1796" y="199" class="b c m">Spolu</text>
<text x="1862.5" y="192" class="b c m">Očakánavé</text><text x="1862.5" y="206" class="b c m">prirodz.zmlad</text>
<text x="1952" y="192" class="b c m">Plánovaná</text><text x="1952" y="206" class="b c m">pods.,podsej</text>

<text x="2092" y="268" class="b c m">Cieľová štruktúra porastu</text>
<text x="2092" y="341" class="c">2 až 3 vrstvová</text>
<text x="2092" y="362" class="b c">Cieľové drevinové zloženie</text>
<text x="2002" y="383" class="b">Dr</text><text x="2060" y="383" class="b c">Zastúpenie</text><text x="2141" y="383" class="b c">Zmiešanie</text>
<text x="2001" y="404">DZ</text><text x="2060" y="404" class="c">40 - 60</text><text x="2141" y="404" class="c">plošne</text>
<text x="2001" y="422">BK</text><text x="2060" y="422" class="c">10 - 30</text><text x="2141" y="422" class="c">ostrovčekovito</text>
<text x="2001" y="440">bo</text><text x="2060" y="440" class="c">5 - 20</text><text x="2141" y="440" class="c">skupinovito</text>
<text x="2001" y="459">cl</text><text x="2060" y="459" class="c">5 - 20</text><text x="2141" y="459" class="c">hlúčikovito</text>
<text x="2001" y="477">hb</text><text x="2060" y="477" class="c">5 - 25</text><text x="2141" y="477" class="c">hlúčikovito</text>
<text x="2001" y="496">sc</text><text x="2060" y="496" class="c">0 - 5</text><text x="2141" y="496" class="c">jednotlivo</text>
<text x="2001" y="514">cr</text><text x="2060" y="514" class="c">0 - 5</text><text x="2141" y="514" class="c">jednotlivo</text>
</g>
</svg>
</body></html>
